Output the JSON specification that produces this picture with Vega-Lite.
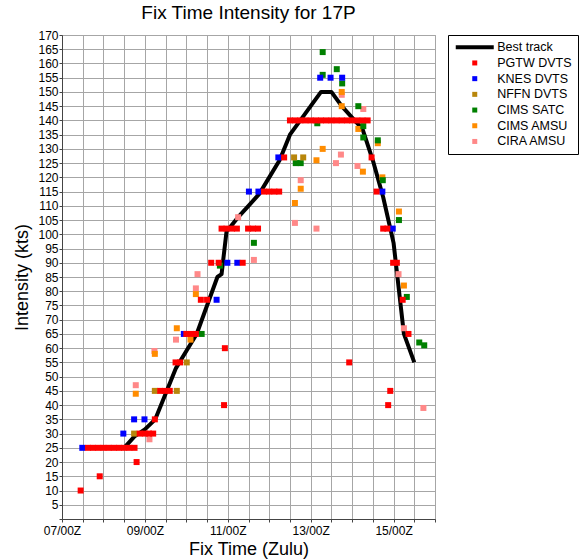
{
  "$schema": "https://vega.github.io/schema/vega-lite/v6.json",
  "width": 373,
  "height": 484,
  "autosize": {"type": "none"},
  "padding": {"left": 62, "top": 35, "right": 144, "bottom": 41},
  "background": "white",
  "title": {"text": "Fix Time Intensity for 17P", "font": "Liberation Sans", "fontSize": 19, "fontWeight": "normal", "color": "#000", "anchor": "middle", "frame": "group", "offset": 6},
  "config": {
    "view": {"stroke": "#a6a6a6"},
    "axis": {"labelFont": "Liberation Sans", "labelFontSize": 12, "labelColor": "#000", "titleFont": "Liberation Sans", "titleFontSize": 18, "titleFontWeight": "normal", "titleColor": "#000", "grid": true, "gridColor": "#a6a6a6", "gridOpacity": 1, "gridWidth": 1, "domainColor": "#444", "tickColor": "#444", "tickSize": 3}
  },
  "datasets": {
    "track": [
      {"t": 7.5, "kt": 25}, {"t": 7.75, "kt": 25}, {"t": 8.0, "kt": 25}, {"t": 8.25, "kt": 25}, {"t": 8.5, "kt": 25},
      {"t": 8.75, "kt": 29}, {"t": 9.0, "kt": 31.5}, {"t": 9.25, "kt": 35}, {"t": 9.5, "kt": 44}, {"t": 9.75, "kt": 53},
      {"t": 10.0, "kt": 59}, {"t": 10.25, "kt": 65}, {"t": 10.5, "kt": 75}, {"t": 10.75, "kt": 85}, {"t": 10.85, "kt": 86},
      {"t": 10.97, "kt": 101}, {"t": 11.25, "kt": 106}, {"t": 11.5, "kt": 110}, {"t": 11.75, "kt": 114}, {"t": 12.0, "kt": 120},
      {"t": 12.25, "kt": 126}, {"t": 12.5, "kt": 135}, {"t": 12.75, "kt": 140}, {"t": 13.0, "kt": 145}, {"t": 13.25, "kt": 150},
      {"t": 13.5, "kt": 150}, {"t": 13.75, "kt": 145}, {"t": 14.0, "kt": 141}, {"t": 14.25, "kt": 137}, {"t": 14.5, "kt": 126},
      {"t": 14.75, "kt": 113}, {"t": 15.0, "kt": 97}, {"t": 15.25, "kt": 65}, {"t": 15.5, "kt": 55}
    ],
    "fixes": [
      {"t": 8.78, "kt": 47, "src": "CIRA AMSU"}, {"t": 9.11, "kt": 28, "src": "CIRA AMSU"}, {"t": 9.23, "kt": 59, "src": "CIRA AMSU"},
      {"t": 9.75, "kt": 63, "src": "CIRA AMSU"}, {"t": 10.23, "kt": 81, "src": "CIRA AMSU"}, {"t": 10.27, "kt": 86, "src": "CIRA AMSU"},
      {"t": 11.25, "kt": 106, "src": "CIRA AMSU"}, {"t": 11.63, "kt": 91, "src": "CIRA AMSU"}, {"t": 12.62, "kt": 104, "src": "CIRA AMSU"},
      {"t": 12.76, "kt": 119, "src": "CIRA AMSU"}, {"t": 13.14, "kt": 102, "src": "CIRA AMSU"}, {"t": 13.61, "kt": 125, "src": "CIRA AMSU"},
      {"t": 13.73, "kt": 128, "src": "CIRA AMSU"}, {"t": 13.75, "kt": 149, "src": "CIRA AMSU"}, {"t": 14.13, "kt": 124, "src": "CIRA AMSU"},
      {"t": 14.27, "kt": 144, "src": "CIRA AMSU"}, {"t": 15.12, "kt": 86, "src": "CIRA AMSU"}, {"t": 15.25, "kt": 67, "src": "CIRA AMSU"},
      {"t": 15.72, "kt": 39, "src": "CIRA AMSU"},
      {"t": 8.78, "kt": 44, "src": "CIMS AMSU"}, {"t": 9.24, "kt": 58, "src": "CIMS AMSU"}, {"t": 9.77, "kt": 67, "src": "CIMS AMSU"},
      {"t": 10.1, "kt": 63, "src": "CIMS AMSU"}, {"t": 10.23, "kt": 79, "src": "CIMS AMSU"}, {"t": 12.62, "kt": 111, "src": "CIMS AMSU"},
      {"t": 12.76, "kt": 116, "src": "CIMS AMSU"}, {"t": 13.14, "kt": 126, "src": "CIMS AMSU"}, {"t": 13.29, "kt": 130, "src": "CIMS AMSU"},
      {"t": 13.75, "kt": 150, "src": "CIMS AMSU"}, {"t": 13.75, "kt": 145, "src": "CIMS AMSU"}, {"t": 14.15, "kt": 137, "src": "CIMS AMSU"},
      {"t": 14.26, "kt": 122, "src": "CIMS AMSU"}, {"t": 14.62, "kt": 132, "src": "CIMS AMSU"}, {"t": 14.73, "kt": 120, "src": "CIMS AMSU"},
      {"t": 15.13, "kt": 108, "src": "CIMS AMSU"}, {"t": 15.25, "kt": 82, "src": "CIMS AMSU"},
      {"t": 10.37, "kt": 65, "src": "CIMS SATC"}, {"t": 10.81, "kt": 89, "src": "CIMS SATC"}, {"t": 11.63, "kt": 97, "src": "CIMS SATC"},
      {"t": 12.64, "kt": 125, "src": "CIMS SATC"}, {"t": 12.76, "kt": 125, "src": "CIMS SATC"}, {"t": 13.16, "kt": 139, "src": "CIMS SATC"},
      {"t": 13.29, "kt": 164, "src": "CIMS SATC"}, {"t": 13.29, "kt": 156, "src": "CIMS SATC"}, {"t": 13.63, "kt": 158, "src": "CIMS SATC"},
      {"t": 13.76, "kt": 153, "src": "CIMS SATC"}, {"t": 14.15, "kt": 145, "src": "CIMS SATC"}, {"t": 14.27, "kt": 138, "src": "CIMS SATC"},
      {"t": 14.27, "kt": 134, "src": "CIMS SATC"}, {"t": 14.62, "kt": 133, "src": "CIMS SATC"}, {"t": 14.74, "kt": 119, "src": "CIMS SATC"},
      {"t": 15.13, "kt": 105, "src": "CIMS SATC"}, {"t": 15.32, "kt": 78, "src": "CIMS SATC"}, {"t": 15.62, "kt": 62, "src": "CIMS SATC"},
      {"t": 15.74, "kt": 61, "src": "CIMS SATC"},
      {"t": 8.74, "kt": 30, "src": "NFFN DVTS"}, {"t": 9.24, "kt": 45, "src": "NFFN DVTS"}, {"t": 9.77, "kt": 45, "src": "NFFN DVTS"},
      {"t": 10.01, "kt": 55, "src": "NFFN DVTS"}, {"t": 12.6, "kt": 127, "src": "NFFN DVTS"}, {"t": 12.82, "kt": 127, "src": "NFFN DVTS"},
      {"t": 7.49, "kt": 25, "src": "KNES DVTS"}, {"t": 8.48, "kt": 30, "src": "KNES DVTS"}, {"t": 8.74, "kt": 35, "src": "KNES DVTS"},
      {"t": 8.99, "kt": 35, "src": "KNES DVTS"}, {"t": 9.94, "kt": 65, "src": "KNES DVTS"}, {"t": 10.73, "kt": 77, "src": "KNES DVTS"},
      {"t": 10.99, "kt": 90, "src": "KNES DVTS"}, {"t": 11.23, "kt": 90, "src": "KNES DVTS"}, {"t": 11.51, "kt": 115, "src": "KNES DVTS"},
      {"t": 11.74, "kt": 115, "src": "KNES DVTS"}, {"t": 12.22, "kt": 127, "src": "KNES DVTS"}, {"t": 13.23, "kt": 155, "src": "KNES DVTS"},
      {"t": 13.48, "kt": 155, "src": "KNES DVTS"}, {"t": 13.76, "kt": 155, "src": "KNES DVTS"}, {"t": 14.73, "kt": 115, "src": "KNES DVTS"},
      {"t": 14.98, "kt": 102, "src": "KNES DVTS"},
      {"t": 7.45, "kt": 10, "src": "PGTW DVTS"}, {"t": 7.91, "kt": 15, "src": "PGTW DVTS"},
      {"t": 7.625, "kt": 25, "src": "PGTW DVTS"}, {"t": 7.75, "kt": 25, "src": "PGTW DVTS"}, {"t": 7.875, "kt": 25, "src": "PGTW DVTS"},
      {"t": 8.0, "kt": 25, "src": "PGTW DVTS"}, {"t": 8.125, "kt": 25, "src": "PGTW DVTS"}, {"t": 8.25, "kt": 25, "src": "PGTW DVTS"},
      {"t": 8.375, "kt": 25, "src": "PGTW DVTS"}, {"t": 8.5, "kt": 25, "src": "PGTW DVTS"}, {"t": 8.625, "kt": 25, "src": "PGTW DVTS"},
      {"t": 8.75, "kt": 25, "src": "PGTW DVTS"}, {"t": 8.8, "kt": 20, "src": "PGTW DVTS"},
      {"t": 8.875, "kt": 30, "src": "PGTW DVTS"}, {"t": 9.0, "kt": 30, "src": "PGTW DVTS"}, {"t": 9.1, "kt": 30, "src": "PGTW DVTS"},
      {"t": 9.2, "kt": 30, "src": "PGTW DVTS"}, {"t": 9.24, "kt": 35, "src": "PGTW DVTS"},
      {"t": 9.37, "kt": 45, "src": "PGTW DVTS"}, {"t": 9.48, "kt": 45, "src": "PGTW DVTS"}, {"t": 9.6, "kt": 45, "src": "PGTW DVTS"},
      {"t": 9.74, "kt": 55, "src": "PGTW DVTS"}, {"t": 9.85, "kt": 55, "src": "PGTW DVTS"},
      {"t": 10.0, "kt": 65, "src": "PGTW DVTS"}, {"t": 10.12, "kt": 65, "src": "PGTW DVTS"}, {"t": 10.23, "kt": 65, "src": "PGTW DVTS"},
      {"t": 10.35, "kt": 77, "src": "PGTW DVTS"}, {"t": 10.5, "kt": 77, "src": "PGTW DVTS"},
      {"t": 10.6, "kt": 90, "src": "PGTW DVTS"}, {"t": 10.78, "kt": 90, "src": "PGTW DVTS"}, {"t": 11.36, "kt": 90, "src": "PGTW DVTS"},
      {"t": 10.93, "kt": 60, "src": "PGTW DVTS"}, {"t": 10.91, "kt": 40, "src": "PGTW DVTS"},
      {"t": 10.85, "kt": 102, "src": "PGTW DVTS"}, {"t": 10.97, "kt": 102, "src": "PGTW DVTS"}, {"t": 11.1, "kt": 102, "src": "PGTW DVTS"},
      {"t": 11.22, "kt": 102, "src": "PGTW DVTS"}, {"t": 11.49, "kt": 102, "src": "PGTW DVTS"}, {"t": 11.61, "kt": 102, "src": "PGTW DVTS"},
      {"t": 11.73, "kt": 102, "src": "PGTW DVTS"},
      {"t": 11.875, "kt": 115, "src": "PGTW DVTS"}, {"t": 12.0, "kt": 115, "src": "PGTW DVTS"}, {"t": 12.125, "kt": 115, "src": "PGTW DVTS"},
      {"t": 12.24, "kt": 115, "src": "PGTW DVTS"}, {"t": 12.36, "kt": 127, "src": "PGTW DVTS"},
      {"t": 12.5, "kt": 140, "src": "PGTW DVTS"}, {"t": 12.625, "kt": 140, "src": "PGTW DVTS"}, {"t": 12.75, "kt": 140, "src": "PGTW DVTS"},
      {"t": 12.875, "kt": 140, "src": "PGTW DVTS"}, {"t": 13.0, "kt": 140, "src": "PGTW DVTS"}, {"t": 13.125, "kt": 140, "src": "PGTW DVTS"},
      {"t": 13.25, "kt": 140, "src": "PGTW DVTS"}, {"t": 13.375, "kt": 140, "src": "PGTW DVTS"}, {"t": 13.5, "kt": 140, "src": "PGTW DVTS"},
      {"t": 13.625, "kt": 140, "src": "PGTW DVTS"}, {"t": 13.75, "kt": 140, "src": "PGTW DVTS"}, {"t": 13.875, "kt": 140, "src": "PGTW DVTS"},
      {"t": 14.0, "kt": 140, "src": "PGTW DVTS"}, {"t": 14.125, "kt": 140, "src": "PGTW DVTS"}, {"t": 14.25, "kt": 140, "src": "PGTW DVTS"},
      {"t": 14.375, "kt": 140, "src": "PGTW DVTS"},
      {"t": 13.93, "kt": 55, "src": "PGTW DVTS"}, {"t": 14.47, "kt": 127, "src": "PGTW DVTS"}, {"t": 14.59, "kt": 115, "src": "PGTW DVTS"},
      {"t": 14.75, "kt": 102, "src": "PGTW DVTS"}, {"t": 14.85, "kt": 102, "src": "PGTW DVTS"},
      {"t": 14.87, "kt": 40, "src": "PGTW DVTS"}, {"t": 14.92, "kt": 45, "src": "PGTW DVTS"},
      {"t": 14.99, "kt": 90, "src": "PGTW DVTS"}, {"t": 15.08, "kt": 90, "src": "PGTW DVTS"},
      {"t": 15.22, "kt": 77, "src": "PGTW DVTS"}, {"t": 15.36, "kt": 65, "src": "PGTW DVTS"}
    ]
  },
  "encoding": {
    "x": {"field": "t", "type": "quantitative", "scale": {"domain": [7, 16], "nice": false, "zero": false},
      "axis": {"title": "Fix Time (Zulu)", "grid": true, "values": [7, 7.5, 8, 8.5, 9, 9.5, 10, 10.5, 11, 11.5, 12, 12.5, 13, 13.5, 14, 14.5, 15, 15.5, 16],
        "labelExpr": "datum.value % 2 == 1 ? (datum.value < 10 ? '0' : '') + datum.value + '/00Z' : ''",
        "labelFlush": false, "labelOverlap": false, "labelPadding": 3, "titlePadding": 4}},
    "y": {"field": "kt", "type": "quantitative", "scale": {"domain": [0, 170], "nice": false},
      "axis": {"title": "Intensity (kts)", "grid": true, "values": [0, 5, 10, 15, 20, 25, 30, 35, 40, 45, 50, 55, 60, 65, 70, 75, 80, 85, 90, 95, 100, 105, 110, 115, 120, 125, 130, 135, 140, 145, 150, 155, 160, 165, 170],
        "labelExpr": "datum.value == 0 ? '' : datum.label", "labelFlush": false, "labelOverlap": false, "labelPadding": 1, "titlePadding": 6}}
  },
  "layer": [
    {
      "data": {"name": "track"},
      "mark": {"type": "line", "color": "#000", "strokeWidth": 4, "strokeJoin": "round", "strokeCap": "butt"}
    },
    {
      "data": {"name": "fixes"},
      "mark": {"type": "point", "filled": true, "size": 36, "opacity": 1, "strokeWidth": 0},
      "encoding": {
        "color": {"field": "src", "type": "nominal",
          "scale": {"domain": ["Best track", "PGTW DVTS", "KNES DVTS", "NFFN DVTS", "CIMS SATC", "CIMS AMSU", "CIRA AMSU"],
            "range": ["#000000", "#ff0000", "#0000ff", "#b8860b", "#008000", "#ff8c00", "#ff8888"]},
          "legend": {"title": null, "orient": "none", "legendX": 386, "legendY": 0, "strokeColor": "#000", "fillColor": "#fff", "padding": 6,
            "labelFont": "Liberation Sans", "labelFontSize": 12.5, "labelColor": "#000", "symbolSize": 25, "symbolStrokeWidth": 0, "symbolOpacity": 1,
            "symbolOffset": 14.5, "labelOffset": 16.2, "rowPadding": 2.7}},
        "shape": {"field": "src", "type": "nominal",
          "scale": {"domain": ["Best track", "PGTW DVTS", "KNES DVTS", "NFFN DVTS", "CIMS SATC", "CIMS AMSU", "CIRA AMSU"],
            "range": ["M-7.6,-0.8H7.6V0.8H-7.6Z", "square", "square", "square", "square", "square", "square"]},
          "legend": {"title": null, "orient": "none", "legendX": 386, "legendY": 0, "strokeColor": "#000", "fillColor": "#fff", "padding": 6,
            "labelFont": "Liberation Sans", "labelFontSize": 12.5, "labelColor": "#000", "symbolSize": 25, "symbolStrokeWidth": 0, "symbolOpacity": 1,
            "symbolOffset": 14.5, "labelOffset": 16.2, "rowPadding": 2.7}}
      }
    }
  ]
}
